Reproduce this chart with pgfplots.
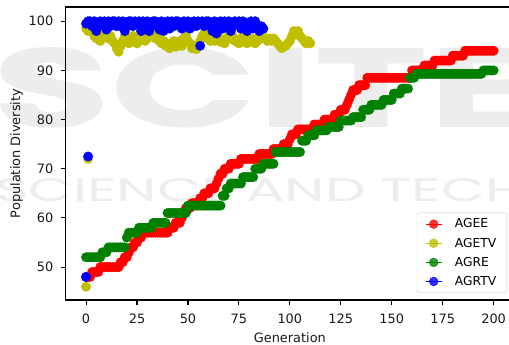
\documentclass[border=0pt]{standalone}
\usepackage{fontspec}
\setmainfont{DejaVu Sans}
\newfontfamily\markfont{Poppins}
\usepackage{graphicx}
\usepackage{pgfplots}
\pgfplotsset{compat=1.18}

\definecolor{mplred}{rgb}{1,0,0}
\definecolor{mplyellow}{rgb}{0.75,0.75,0}
\definecolor{mplgreen}{rgb}{0,0.5,0}
\definecolor{mplblue}{rgb}{0,0,1}

\newcommand{\lbl}{\fontsize{12.9bp}{15.5bp}\selectfont}
\newcommand{\leg}{\fontsize{12.3bp}{14.8bp}\selectfont}

\pgfplotsset{
  dots/.style={only marks, mark=*, mark size=4.7bp, color=#1,
    mark options={draw=none, fill=#1},
    legend image code/.code={\path (0bp,0bp) -- (16bp,0bp);
      \fill[#1] (8bp,0bp) circle[radius=4.4bp];}},
}

\begin{document}
\begin{tikzpicture}[font=\lbl]
% faint publisher mark behind the plot
\node[inner sep=0pt, anchor=south west, text=black!7] at (-73.7bp,172bp)
  {\resizebox{540bp}{80bp}{\markfont\bfseries SCITE}};
\node[inner sep=0pt, anchor=south west, text=black!7] at (-70.7bp,98bp)
  {\resizebox{530bp}{23bp}{\markfont SCIENCE AND TECH}};

\begin{axis}[
  scale only axis, width=448.3bp, height=293bp,
  xmin=-10, xmax=210, ymin=43.3, ymax=102.9,
  xtick={0,25,...,200}, ytick={50,60,...,100},
  tick align=outside, tick pos=left, major tick length=4.9bp,
  tick style={black, line width=1.1bp},
  axis line style={black, line width=1.1bp},
  /pgf/number format/assume math mode=true,
  tick label style={font=\lbl, text=black!90},
  xticklabel style={yshift=-6bp},
  yticklabel style={xshift=-4bp},
  label style={font=\lbl, text=black!90},
  xlabel style={yshift=-2bp},
  ylabel style={yshift=-1bp},
  xlabel={Generation}, ylabel={Population Diversity},
  legend cell align=left,
  legend style={at={(0.9844,0.0239)}, anchor=south east,
    draw=black!20, fill=white, fill opacity=0.8, text opacity=1,
    rounded corners=2.5bp, font=\leg, inner xsep=8.5bp, inner ysep=4bp,
    row sep=4.5bp, column sep=11bp},
]

% AGEE
\addplot[dots=mplred] coordinates {
(0,48)(1,48)(2,48)(3,49)(4,49)(5,49)(6,49)(7,50)(8,50)(9,50)
(10,50)(11,50)(12,50)(13,50)(14,50)(15,50)(16,50)(17,51)(18,51)(19,52)
(20,52)(21,53)(22,54)(23,54)(24,55)(25,55)(26,56)(27,56)(28,57)(29,57)
(30,57)(31,57)(32,57)(33,57)(34,57)(35,57)(36,57)(37,57)(38,57)(39,57)
(40,57)(41,58)(42,58)(43,58)(44,59)(45,59)(46,59)(47,60)(48,61)(49,62)
(50,62)(51,62)(52,63)(53,63)(54,63)(55,63)(56,64)(57,64)(58,65)(59,65)
(60,65)(61,66)(62,66)(63,66)(64,67)(65,68)(66,69)(67,69)(68,70)(69,70)
(70,70)(71,71)(72,71)(73,71)(74,71)(75,71)(76,72)(77,72)(78,72)(79,72)
(80,72)(81,72)(82,72)(83,72)(84,72)(85,73)(86,73)(87,73)(88,73)(89,73)
(90,73)(91,73)(92,74)(93,74)(94,74)(95,74)(96,74)(97,75)(98,75)(99,75)
(100,76)(101,77)(102,77)(103,77)(104,78)(105,78)(106,78)(107,78)(108,78)(109,78)
(110,78)(111,78)(112,79)(113,79)(114,79)(115,79)(116,79)(117,80)(118,80)(119,80)
(120,80)(121,80)(122,81)(123,81)(124,81)(125,82)(126,82)(127,82)(128,83)(129,84)
(130,85)(131,86)(132,86)(133,86)(134,87)(135,87)(136,87)(137,87)(138,88.5)(139,88.5)
(140,88.5)(141,88.5)(142,88.5)(143,88.5)(144,88.5)(145,88.5)(146,88.5)(147,88.5)(148,88.5)(149,88.5)
(150,88.5)(151,88.5)(152,88.5)(153,88.5)(154,88.5)(155,88.5)(156,88.5)(157,88.5)(158,88.5)(159,88.5)
(160,90)(161,90)(162,90)(163,90)(164,90)(165,90)(166,91)(167,91)(168,91)(169,91)
(170,91)(171,92)(172,92)(173,92)(174,92)(175,92)(176,92)(177,92)(178,92)(179,92)
(180,93)(181,93)(182,93)(183,93)(184,93)(185,93)(186,94)(187,94)(188,94)(189,94)
(190,94)(191,94)(192,94)(193,94)(194,94)(195,94)(196,94)(197,94)(198,94)(199,94)
(200,94)
};
\addlegendentry{AGEE}

% AGETV
\addplot[dots=mplyellow] coordinates {
(0,46)(1,72)(0,98.5)(1,98)(2,98.5)(3,98)(4,97)(5,96.5)(6,97.5)(7,96)(8,97)(9,98)
(10,97)(11,96.5)(12,97)(13,96)(14,95.5)(15,94.5)(16,93.8)(17,95)(18,96)(19,97)
(20,96.5)(21,95.5)(22,96)(23,97)(24,96)(25,95.5)(26,96)(27,96.5)(28,97)(29,96)
(30,96.5)(31,97.5)(32,98)(33,97)(34,96.5)(35,97)(36,96)(37,95.5)(38,96)(39,95)
(40,95.5)(41,94.5)(42,95)(43,96)(44,94.8)(45,95)(46,96)(47,95)(48,96.5)(49,97)
(50,96)(51,95.5)(52,94.5)(53,95)(54,94.3)(55,95)(56,96)(57,97)(58,97.5)(59,97)
(60,96.5)(61,96)(62,97)(63,96)(64,96.5)(65,97)(66,95.8)(67,96)(68,95.5)(69,96.5)
(70,97)(71,96.5)(72,97)(73,96)(74,96)(75,95.5)(76,96.5)(77,97)(78,96)(79,95.5)
(80,96)(81,96.5)(82,96)(83,95.5)(84,96)(85,97)(86,96.5)(87,97)(88,96.5)(89,96)
(90,96.5)(91,96)(92,96.5)(93,96)(94,95.5)(95,95)(96,94.5)(97,94.8)(98,95)(99,95.5)
(100,96)(101,97)(102,98)(103,97.5)(104,98)(105,97)(106,96.5)(107,96)(108,95.5)(109,96)
(110,95.5)
};
\addlegendentry{AGETV}

% AGRE
\addplot[dots=mplgreen] coordinates {
(0,52)(1,52)(2,52)(3,52)(4,52)(5,52)(6,52)(7,52)(8,53)(9,53)
(10,53)(11,54)(12,54)(13,54)(14,54)(15,54)(16,54)(17,54)(18,54)(19,54)
(20,56)(21,57)(22,57)(23,57)(24,57)(25,57)(26,58)(27,58)(28,58)(29,58)
(30,58)(31,58)(32,58)(33,59)(34,59)(35,59)(36,59)(37,59)(38,59)(39,59)
(40,61)(41,61)(42,61)(43,61)(44,61)(45,61)(46,61)(47,61)(48,61)(49,61)
(50,62.5)(51,62.5)(52,62.5)(53,62.5)(54,62.5)(55,62.5)(56,62.5)(57,62.5)(58,62.5)(59,62.5)
(60,62.5)(61,62.5)(62,62.5)(63,62.5)(64,62.5)(65,62.5)(66,62.5)(67,64.5)(68,64.5)(69,66)
(70,66)(71,67)(72,67)(73,67)(74,67)(75,67)(76,67)(77,68.3)(78,68.3)(79,68.3)
(80,68.3)(81,68.3)(82,68.3)(83,70)(84,70)(85,70)(86,70)(87,71)(88,71)(89,71)
(90,71)(91,71)(92,71)(93,73.4)(94,73.4)(95,73.4)(96,73.4)(97,73.4)(98,73.4)(99,73.4)
(100,73.4)(101,73.4)(102,73.4)(103,73.4)(104,73.4)(105,73.4)(106,75.7)(107,75.7)(108,75.7)(109,76.8)
(110,76.8)(111,76.8)(112,76.8)(113,77.8)(114,77.8)(115,77.8)(116,77.8)(117,77.8)(118,77.8)(119,78.5)
(120,78.5)(121,78.5)(122,78.5)(123,78.5)(124,78.5)(125,79.8)(126,79.8)(127,79.8)(128,79.8)(129,79.8)
(130,79.8)(131,80.5)(132,80.5)(133,80.5)(134,80.5)(135,80.5)(136,82)(137,82)(138,82)(139,82)
(140,83)(141,83)(142,83)(143,83)(144,83)(145,83)(146,84)(147,84)(148,84)(149,84)
(150,84)(151,85.3)(152,85.3)(153,85.3)(154,85.3)(155,86.3)(156,86.3)(157,86.3)(158,86.3)(159,88.5)
(160,88.5)(161,88.5)(162,89.3)(163,89.3)(164,89.3)(165,89.3)(166,89.3)(167,89.3)(168,89.3)(169,89.3)
(170,89.3)(171,89.3)(172,89.3)(173,89.3)(174,89.3)(175,89.3)(176,89.3)(177,89.3)(178,89.3)(179,89.3)
(180,89.3)(181,89.3)(182,89.3)(183,89.3)(184,89.3)(185,89.3)(186,89.3)(187,89.3)(188,89.3)(189,89.3)
(190,89.3)(191,89.3)(192,89.3)(193,89.3)(194,89.3)(195,90)(196,90)(197,90)(198,90)(199,90)
(200,90)
};
\addlegendentry{AGRE}

% AGRTV
\addplot[dots=mplblue] coordinates {
(0,48)(1,72.5)(0,99.5)(1,100)(2,100)(3,99)(4,100)(5,98)(6,99)(7,100)(8,99.5)(9,100)
(10,98.3)(11,100)(12,99)(13,100)(14,100)(15,99)(16,100)(17,99)(18,100)(19,98)
(20,99)(21,100)(22,100)(23,99)(24,100)(25,99.5)(26,100)(27,98)(28,100)(29,99)
(30,100)(31,98)(32,99)(33,100)(34,100)(35,99)(36,98.3)(37,100)(38,98)(39,99)
(40,100)(41,98.5)(42,100)(43,99)(44,100)(45,100)(46,99)(47,98.5)(48,100)(49,99)
(50,100)(51,98.5)(52,99.5)(53,100)(54,99)(55,100)(56,95)(57,100)(58,99)(59,100)
(60,100)(61,99)(62,98)(63,100)(64,97.5)(65,99)(66,100)(67,98.5)(68,100)(69,99)
(70,100)(71,98)(72,99)(73,100)(74,99.5)(75,100)(76,98.5)(77,100)(78,99)(79,98)
(80,99)(81,100)(82,98.5)(83,100)(84,99)(85,98)(86,99)(87,98.5)
};
\addlegendentry{AGRTV}

\end{axis}
\pgfresetboundingbox
\useasboundingbox (-65.7bp,-45bp) rectangle (443.3bp,300bp);
\end{tikzpicture}
\end{document}
